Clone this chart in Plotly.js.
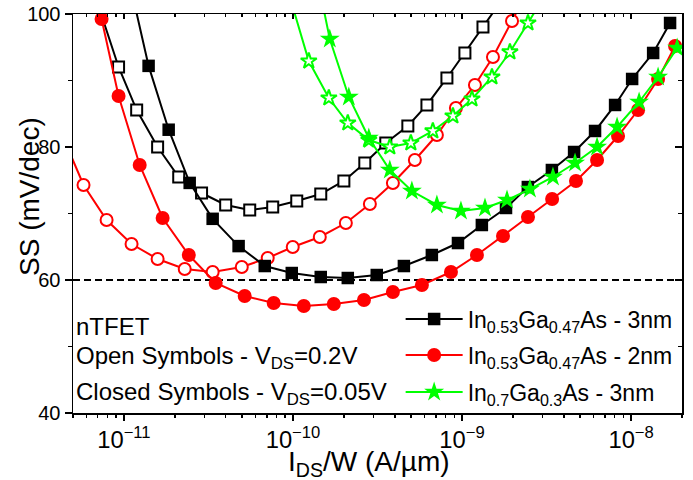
<!DOCTYPE html>
<html><head><meta charset="utf-8">
<script src="https://cdn.plot.ly/plotly-3.0.1.min.js"></script>
<style>body{margin:0;padding:0;background:#fff}#chart{width:693px;height:480px}</style>
</head><body><div id="chart"></div>
<script>
const FONT = 'Liberation Sans, Arial, sans-serif';

// In0.53Ga0.47As - 3nm, closed symbols (VDS = 0.05 V)
const ga47_3nm_closed_I = [1.10e-11, 1.40e-11, 1.84e-11, 2.45e-11, 3.35e-11, 4.77e-11, 6.81e-11, 9.84e-11, 1.46e-10, 2.11e-10, 3.13e-10, 4.53e-10, 6.63e-10, 9.46e-10, 1.31e-9, 1.82e-9, 2.45e-9, 3.40e-9, 4.60e-9, 6.12e-9, 8.04e-9, 1.014e-8, 1.35e-8, 1.70e-8];
const ga47_3nm_closed_SS = [103.9, 92.2, 82.6, 74.6, 69.2, 65.1, 62.1, 61.05, 60.45, 60.3, 60.75, 62.1, 63.76, 65.56, 68.27, 70.83, 73.98, 76.54, 79.25, 82.41, 86.32, 90.23, 94.14, 98.65];
// In0.53Ga0.47As - 3nm, open symbols (VDS = 0.2 V)
const ga47_3nm_open_I = [6.89e-12, 9.30e-12, 1.19e-11, 1.583e-11, 2.11e-11, 2.88e-11, 4.00e-11, 5.55e-11, 7.59e-11, 1.053e-10, 1.46e-10, 2.00e-10, 2.66e-10, 3.54e-10, 4.78e-10, 6.20e-10, 8.14e-10, 1.04e-9, 1.33e-9, 1.72e-9];
const ga47_3nm_open_SS = [102.1, 92.03, 85.56, 80.0, 75.49, 73.08, 71.28, 70.53, 70.98, 71.88, 72.93, 74.89, 77.59, 80.6, 83.16, 86.32, 90.38, 94.14, 98.05, 102.1];
// In0.53Ga0.47As - 2nm, closed symbols
const ga47_2nm_closed_I = [7.38e-12, 9.30e-12, 1.24e-11, 1.695e-11, 2.42e-11, 3.49e-11, 5.18e-11, 7.69e-11, 1.159e-10, 1.744e-10, 2.63e-10, 3.90e-10, 5.79e-10, 8.60e-10, 1.225e-9, 1.747e-9, 2.455e-9, 3.41e-9, 4.72e-9, 6.29e-9, 8.37e-9, 1.10e-8, 1.444e-8, 1.82e-8];
const ga47_2nm_closed_SS = [99.25, 87.67, 77.29, 69.32, 63.76, 59.55, 57.59, 56.54, 56.09, 56.39, 56.99, 58.2, 59.25, 61.2, 63.76, 66.62, 69.47, 72.18, 74.89, 78.05, 81.65, 85.56, 90.23, 95.19];
// In0.53Ga0.47As - 2nm, open symbols
const ga47_2nm_open_I = [4.28e-12, 5.77e-12, 7.90e-12, 1.11e-11, 1.583e-11, 2.29e-11, 3.35e-11, 4.98e-11, 7.09e-11, 9.97e-11, 1.441e-10, 2.055e-10, 2.85e-10, 3.90e-10, 5.26e-10, 7.10e-10, 9.20e-10, 1.192e-9, 1.524e-9, 1.975e-9, 2.325e-9];
const ga47_2nm_open_SS = [82.0, 74.29, 69.02, 65.41, 63.16, 61.65, 61.2, 61.95, 63.31, 64.96, 66.47, 68.57, 71.43, 74.59, 78.05, 81.8, 85.86, 89.32, 93.53, 98.95, 102.4];
// In0.7Ga0.3As - 3nm, open symbols
const ga3_3nm_open_I = [9.70e-11, 1.24e-10, 1.63e-10, 2.11e-10, 2.81e-10, 3.74e-10, 4.98e-10, 6.72e-10, 8.83e-10, 1.145e-9, 1.503e-9, 1.92e-9, 2.455e-9, 2.97e-9];
const ga3_3nm_open_SS = [102.1, 92.93, 87.37, 83.61, 81.05, 80.0, 80.6, 82.41, 84.66, 87.22, 90.53, 94.29, 98.65, 102.1];
// In0.7Ga0.3As - 3nm, closed symbols
const ga3_3nm_closed_I = [1.481e-10, 1.651e-10, 2.14e-10, 2.81e-10, 3.74e-10, 5.05e-10, 7.10e-10, 9.85e-10, 1.367e-9, 1.845e-9, 2.52e-9, 3.45e-9, 4.66e-9, 6.29e-9, 8.26e-9, 1.115e-8, 1.444e-8, 1.872e-8];
const ga3_3nm_closed_SS = [102.1, 96.24, 87.52, 81.35, 76.54, 73.38, 71.28, 70.38, 70.83, 72.03, 73.68, 75.49, 77.59, 80.0, 83.01, 86.77, 90.53, 94.89];

const legendNames = ['In<sub>0.53</sub>Ga<sub>0.47</sub>As - 3nm', 'In<sub>0.53</sub>Ga<sub>0.47</sub>As - 2nm', 'In<sub>0.7</sub>Ga<sub>0.3</sub>As - 3nm'];
const noteLines = ['nTFET', 'Open Symbols - V<sub>DS</sub>=0.2V', 'Closed Symbols - V<sub>DS</sub>=0.05V'];
const xTitle = 'I<sub>DS</sub>/W (A/\u00b5m)';
const yTitle = 'SS (mV/dec)';
const xRange = [5e-12, 2e-8];
const yRange = [40, 100];
const thermalLimit = 60;

const BLACK = '#000000', RED = '#ff0000', GREEN = '#00ff00';

function openTrace(x, y, color, symbol, size) {
  return {x, y, type: 'scatter', mode: 'lines+markers', showlegend: false, hoverinfo: 'skip',
    line: {color, width: 2}, marker: {symbol, size, color: '#ffffff', line: {color, width: 2}}};
}
function closedTrace(x, y, color, symbol, size, name, leg) {
  return {x, y, type: 'scatter', mode: 'lines+markers', name, legend: leg, hoverinfo: 'skip',
    line: {color, width: 2}, marker: {symbol, size, color, line: {width: 0}}};
}

const data = [
  openTrace(ga47_2nm_open_I, ga47_2nm_open_SS, RED, 'circle', 12),
  openTrace(ga47_3nm_open_I, ga47_3nm_open_SS, BLACK, 'square', 11),
  closedTrace(ga47_2nm_closed_I, ga47_2nm_closed_SS, RED, 'circle', 14, legendNames[1], 'legend2'),
  closedTrace(ga47_3nm_closed_I, ga47_3nm_closed_SS, BLACK, 'square', 12.5, legendNames[0], 'legend'),
  openTrace(ga3_3nm_open_I, ga3_3nm_open_SS, GREEN, 'star', 12),
  closedTrace(ga3_3nm_closed_I, ga3_3nm_closed_SS, GREEN, 'star', 15, legendNames[2], 'legend3'),
  {x: [], y: [], xaxis: 'x2', yaxis: 'y2', type: 'scatter', mode: 'markers', showlegend: false, hoverinfo: 'skip'}
];

const lx = Math.log10;
const axBase = {showgrid: false, zeroline: false, showline: true, linecolor: '#000', linewidth: 1.5,
  tickcolor: '#000', tickwidth: 1.5};

const legBase = {bgcolor: 'rgba(0,0,0,0)', borderwidth: 0, font: {family: FONT, size: 23, color: '#000'},
  itemwidth: 57, xanchor: 'left', yanchor: 'middle', x: 0.538, tracegroupgap: 0};

const noteFont = {family: FONT, size: 24, color: '#000'};

const layout = {
  width: 693, height: 480,
  margin: {l: 73, r: 11, t: 14, b: 67, pad: 0},
  paper_bgcolor: '#fff', plot_bgcolor: '#fff',
  font: {family: FONT, color: '#000'},
  showlegend: true,
  xaxis: Object.assign({}, axBase, {type: 'log', range: [lx(xRange[0]), lx(xRange[1])], dtick: 1,
    exponentformat: 'power', ticks: 'outside', ticklen: 6, mirror: false,
    tickfont: {family: FONT, size: 19, color: '#000'},
    minor: {dtick: 'D1', ticks: 'outside', ticklen: 3, tickwidth: 1.5, tickcolor: '#000', showgrid: false}}),
  yaxis: Object.assign({}, axBase, {range: yRange, dtick: 20, tick0: 40, ticks: 'outside', ticklen: 7, mirror: false,
    tickfont: {family: FONT, size: 20, color: '#000'},
    minor: {dtick: 10, ticks: 'outside', ticklen: 4, tickwidth: 1.5, tickcolor: '#000', showgrid: false}}),
  xaxis2: Object.assign({}, axBase, {type: 'log', overlaying: 'x', matches: 'x', side: 'top', anchor: 'y2',
    range: [lx(xRange[0]), lx(xRange[1])], dtick: 1, ticks: 'inside', ticklen: 5, showticklabels: false,
    minor: {dtick: 'D1', ticks: 'inside', ticklen: 3, tickwidth: 1.5, tickcolor: '#000', showgrid: false}}),
  yaxis2: Object.assign({}, axBase, {overlaying: 'y', matches: 'y', side: 'right', anchor: 'x2',
    range: yRange, dtick: 20, tick0: 40, ticks: 'inside', ticklen: 7, showticklabels: false,
    minor: {dtick: 10, ticks: 'inside', ticklen: 4, tickwidth: 1.5, tickcolor: '#000', showgrid: false}}),
  shapes: [{type: 'line', xref: 'paper', x0: 0, x1: 1, yref: 'y', y0: thermalLimit, y1: thermalLimit,
    line: {color: '#000', width: 2.2, dash: '7px,4px'}, layer: 'below'}],
  legend: Object.assign({}, legBase, {y: 0.2356}),
  legend2: Object.assign({}, legBase, {y: 0.1454}),
  legend3: Object.assign({}, legBase, {y: 0.0526}),
  annotations: [
    {text: noteLines[0], xref: 'paper', yref: 'paper', x: 0.002, y: 0.216, xanchor: 'left', yanchor: 'middle', showarrow: false, font: noteFont},
    {text: noteLines[1], xref: 'paper', yref: 'paper', x: 0.002, y: 0.138, xanchor: 'left', yanchor: 'middle', showarrow: false, font: noteFont},
    {text: noteLines[2], xref: 'paper', yref: 'paper', x: 0.002, y: 0.048, xanchor: 'left', yanchor: 'middle', showarrow: false, font: noteFont},
    {text: yTitle, xref: 'paper', yref: 'paper', x: -0.0706, y: 0.5414, xanchor: 'center', yanchor: 'middle', textangle: -90, showarrow: false, font: {family: FONT, size: 28, color: '#000'}},
    {text: xTitle, xref: 'paper', yref: 'paper', x: 0.486, y: -0.078, xanchor: 'center', yanchor: 'top', showarrow: false, font: {family: FONT, size: 28, color: '#000'}}
  ]
};

Plotly.newPlot('chart', data, layout, {displayModeBar: false, staticPlot: true});
</script>
</body></html>
